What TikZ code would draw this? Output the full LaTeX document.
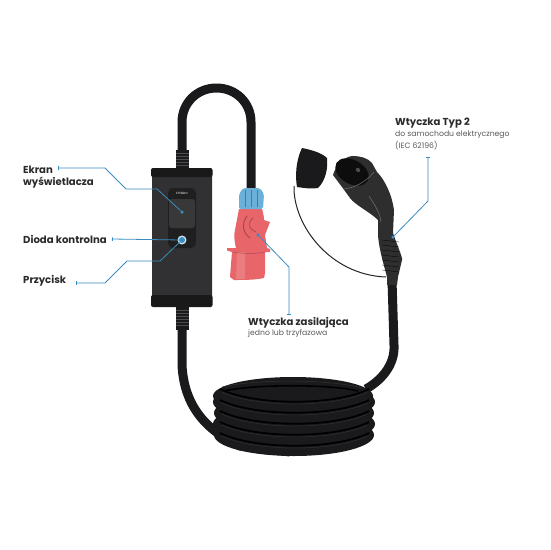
\documentclass[tikz,border=0pt]{standalone}
\usepackage{fontspec}
\setmainfont{Poppins}
\usetikzlibrary{arrows.meta}
\definecolor{cable}{HTML}{1A1A1C}
\definecolor{casing}{HTML}{313134}
\definecolor{leader}{HTML}{3A8DBE}
\definecolor{plugred}{HTML}{E8656A}
\definecolor{plugblue}{HTML}{6BB0D8}
\definecolor{caption}{HTML}{2A2A2A}
\begin{document}
\begin{tikzpicture}[x=1pt,y=-1pt]
	\tikzstyle{title}=[inner sep=0pt,anchor=west,align=left,text=caption,font=\fontsize{10.1}{12}\selectfont\bfseries]
	\tikzstyle{note}=[inner sep=0pt,anchor=west,align=left,text=black!65,font=\fontsize{7.7}{11}\selectfont]
	\tikzstyle{wire}=[draw=cable,line width=9pt]
	\tikzstyle{edge}=[draw=leader,line width=0.8pt,line join=round,{Bar[width=3.5pt,length=0.8pt]}-]
	\tikzstyle{dot}=[circle,fill=leader,inner sep=0pt,minimum size=3.5pt]
	\useasboundingbox (0,0) rectangle (550,550);
	\fill[white] (0,0) rectangle (550,550);

	% cable loop over the box and down to the coil
	\path[wire] (182,155) -- (182,122) .. controls (182,103) and (197,88) .. (216.5,88) .. controls (236,88) and (251,103) .. (251,122) -- (251,195);
	\path[wire] (182,305) -- (182,365) .. controls (184,405) and (205,430) .. (240,446) -- (290,452);
	\path[wire] (392,280) -- (394,345) .. controls (395,362) and (385,378) .. (366,389);

	% coil
	\foreach \y/\rx in {435/80,424/81,413/80,402/81} {
		\fill[cable] (294,\y) ellipse (\rx pt and 21pt);
	}
	\fill[cable] (293,396) ellipse (80pt and 19pt);
	\foreach \y in {398,409,420,431,442} {
		\draw[black,line width=1.8pt] (220,\y-9) .. controls (255,\y+8) and (335,\y+8) .. (369,\y-9);
		\draw[black!80!white,line width=0.4pt] (222,\y-6) .. controls (255,\y+10) and (335,\y+10) .. (367,\y-6);
	}
	\draw[black!80!white,line width=0.5pt] (222,387) .. controls (255,379) and (330,379) .. (362,388);
	\draw[black,line width=1.6pt] (224,391) .. controls (255,384) and (330,384) .. (358,391);

	% strain reliefs and control box
	\fill[cable] (176,150) rectangle (189,170);
	\fill[cable] (176,305) rectangle (189,330);
	\foreach \y in {153,156,159,162,165,310,313,316,319,322,325} {
		\draw[black!70!white,line width=0.3pt] (176,\y) -- (189,\y);
	}
	\fill[casing,rounded corners=2pt] (152,170) rectangle (212,300);
	\fill[black!90,rounded corners=2pt] (151,168) rectangle (212.5,177);
	\fill[black!90,rounded corners=2pt] (151,295) rectangle (212.5,307);
	\fill[black!88,rounded corners=5pt] (168,188) rectangle (196,248);
	\fill[black!78,rounded corners=3pt] (169,199) rectangle (195,228);
	\node[inner sep=0pt,text=white,font=\fontsize{3}{3}\selectfont] (logo) at (182,193.5) {ETENDO};
	\fill[white!75!leader] (182,240) circle (4.5pt);

	% supply plug
	\fill[plugred] (239,209) -- (262,209) .. controls (263,213) and (264,216) .. (264,220) -- (270,222) -- (265,235) -- (267,248) -- (270,249) -- (270,252) -- (265,252) -- (265,273) -- (264,278) .. controls (255,280) and (244,280) .. (234,280) -- (230,277) -- (232,252) -- (227,250.5) -- (227,248) -- (236,248) .. controls (234,240) and (234,235) .. (235,230) -- cycle;
	\fill[plugred!70!white,opacity=0.5] (237,252) -- (245,252) -- (245,279) -- (236,279) -- cycle;
	\draw[plugred!70!black,line width=0.9pt,line cap=round] (247,216) .. controls (241,224) and (243,233) .. (250,238);
	\draw[plugred!70!black,line width=0.7pt,line cap=round] (253,218) .. controls (246,224) and (250,230) .. (256,232);
	\draw[plugred!75!black,line width=0.5pt] (233,252) .. controls (244,254) and (256,254) .. (265,252);
	\fill[plugblue,rounded corners=2pt] (239,194) -- (243,188) -- (260,188) -- (264,194) -- (263,209) -- (239,209) -- cycle;
	\draw[plugblue!70!black,line width=0.4pt] (245,190) -- (245,207) (251,190) -- (251,207) (257,190) -- (257,207);

	% type 2 connector with its cap and tether
	\draw[black!85,line width=1pt] (294,186) .. controls (293,225) and (330,275) .. (386,277);
	\fill[cable] (302,148) .. controls (312,150) and (322,153) .. (327,158) .. controls (328,168) and (326,180) .. (318,188) .. controls (310,189) and (304,188) .. (297,187) .. controls (295,176) and (296,160) .. (302,148) -- cycle;
	\fill[black!82] (333,175) .. controls (336,165) and (345,156) .. (353,156) .. controls (360,156) and (368,158) .. (372,163) -- (377,172) .. controls (385,180) and (392,195) .. (394,210) -- (393,233) .. controls (397,245) and (403,258) .. (402,260) -- (398,277) -- (397,285) -- (387,285) -- (387,277) .. controls (383,262) and (378,245) .. (378,233) -- (378,220) .. controls (370,212) and (355,205) .. (350,198) -- (342,187) -- cycle;
	\fill[black!95,rotate around={-30:(352,172)}] (352,172) ellipse (18pt and 12pt);
	\fill[black!70,rotate around={-30:(358,170)}] (358,170) ellipse (2.5pt and 2pt);
	\draw[black!55,line width=0.5pt] (344,189) .. controls (354,188) and (366,182) .. (374,172);
	\draw[black!55,line width=0.5pt] (369,196) .. controls (374,204) and (380,212) .. (381,222);
	\foreach \y in {240,245,250,255,260,265,270} {
		\draw[black,line width=0.3pt] (382,\y) -- (399,\y+2);
	}

	% text labels
	\node [title] (ekran) at (23,170) {Ekran};
	\node [title] (wysw) at (23,183) {wyświetlacza};
	\node [title] (dioda) at (23,239) {Dioda kontrolna};
	\node [title] (przycisk) at (23,281) {Przycisk};
	\node [title] (zasil) at (248,323) {Wtyczka zasilająca};
	\node [note] (faza) at (248,334) {jedno lub trzyfazowa};
	\node [title] (typ) at (395,123) {Wtyczka Typ 2};
	\node [note] (samochod) at (395,135) {do samochodu elektrycznego};
	\node [note] (iec) at (395,146) {(IEC 62196)};

	% leader lines, free ends as coordinates
	\coordinate (t1) at (58,168);
	\coordinate (t2) at (112,239);
	\coordinate (t3) at (76,283);
	\coordinate (t4) at (289,315);
	\coordinate (t5) at (428,157);
	\node [dot] (screen) at (182,212) {};
	\node [dot,minimum size=6pt] (led) at (182,240) {};
	\node [dot] (body) at (258,235) {};
	\node [dot] (grip) at (393,237) {};

	\path[edge] (t1) -- (105,168) -- (126,189) -- (157,189) -- (screen);
	\path[edge] (t2) -- (led);
	\path[edge] (t3) -- (105,283) -- (127,261) -- (160,261) -- (led);
	\path[edge] (t4) -- (289,267) -- (body);
	\path[edge] (t5) -- (428,201) -- (grip);
\end{tikzpicture}
\end{document}
